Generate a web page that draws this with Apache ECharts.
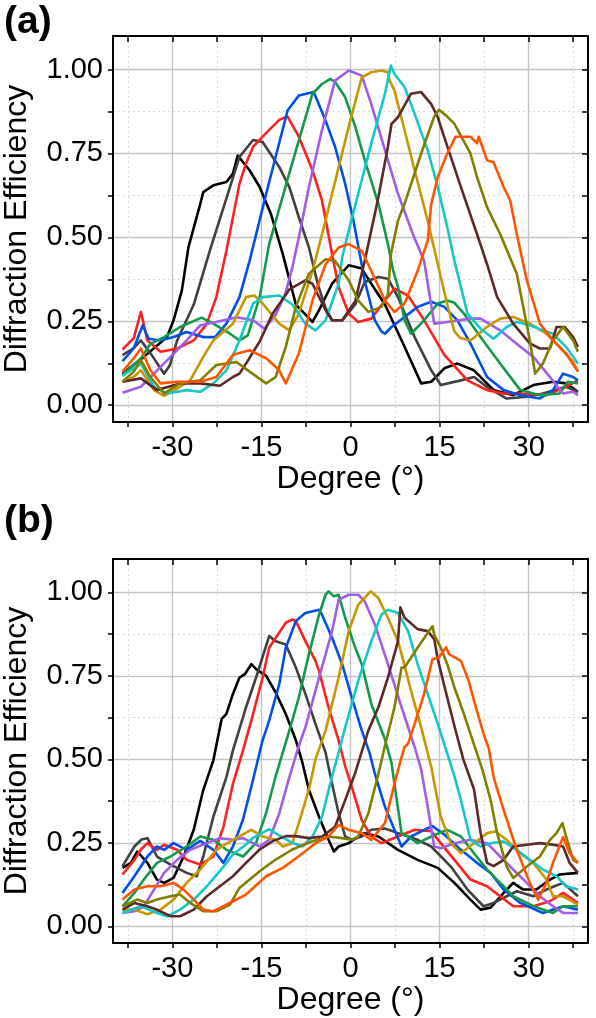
<!DOCTYPE html>
<html><head><meta charset="utf-8">
<script src="https://cdn.jsdelivr.net/npm/echarts@6/dist/echarts.min.js"></script>
<style>html,body{margin:0;padding:0;background:#fff}#c{width:596px;height:1018px}</style>
</head><body><div id="c"></div>
<script>
// ---- axis ticks ----
const xTickLabels = [-30, -15, 0, 15, 30];
const xMinorTicks = [-37.5, -22.5, -7.5, 7.5, 22.5, 37.5];
const yTickLabels = [0, 0.25, 0.5, 0.75, 1.0];
const yMinorTicks = [0.125, 0.375, 0.625, 0.875];
const panelLabels = ['(a)', '(b)'];

// ---- series colours (same order in both panels) ----
const seriesColors = ['#000000', '#404040', '#ff2020', '#0050e6', '#13994a', '#a05ee6',
  '#c89600', '#14c8c8', '#5c2828', '#7f7f00', '#ff5500'];

// ---- panel (a) data: [degree, efficiency] ----
const a_black = [[-38.4,0.094],[-34.8,0.144],[-30.9,0.203],[-29.8,0.253],[-28.4,0.342],[-27.3,0.47],[-25.3,0.6],[-24.8,0.635],[-23.1,0.655],[-20.9,0.665],[-19.8,0.69],[-19.0,0.744],[-17,0.70],[-15.3,0.65],[-13.4,0.57],[-11.4,0.45],[-9.2,0.30],[-6.4,0.248],[-5.3,0.283],[-3.1,0.362],[-0.3,0.417],[1.9,0.407],[3.5,0.362],[5.8,0.30],[9.1,0.174],[11.9,0.065],[13.6,0.07],[15.8,0.11],[18,0.124],[20.8,0.104],[24.1,0.045],[27.4,0.03],[30.8,0.06],[34.1,0.07],[36.3,0.065],[38.3,0.04]];
const a_gray = [[-38.4,0.149],[-36.5,0.17],[-35.3,0.193],[-33.5,0.15],[-31.4,0.094],[-30.4,0.12],[-29.2,0.193],[-26.4,0.30],[-23.7,0.46],[-20.3,0.65],[-18.7,0.74],[-16.4,0.79],[-14.8,0.784],[-12,0.71],[-10.3,0.65],[-8.7,0.56],[-7,0.47],[-5.5,0.36],[-4.2,0.29],[-3.1,0.253],[-1.4,0.253],[0.8,0.30],[2.4,0.367],[4.7,0.382],[6.3,0.377],[8,0.322],[10.8,0.203],[13.6,0.104],[15.2,0.06],[18.6,0.074],[20.8,0.084],[23,0.054],[26.3,0.02],[29.7,0.025],[32.4,0.035],[36.3,0.055],[38.3,0.04]];
const a_red = [[-38.4,0.166],[-36.5,0.2],[-35.3,0.278],[-34.2,0.193],[-32,0.159],[-29.2,0.169],[-26.4,0.193],[-24.2,0.243],[-22.6,0.322],[-20.9,0.46],[-18.7,0.66],[-17.6,0.72],[-16.4,0.77],[-14.8,0.80],[-12,0.85],[-10.6,0.86],[-8.7,0.80],[-6.4,0.70],[-4.8,0.61],[-3.1,0.45],[-2,0.352],[-0.3,0.273],[1.3,0.248],[3.5,0.258],[5.8,0.312],[7.4,0.347],[9.7,0.327],[12.4,0.253],[15.8,0.15],[19.7,0.074],[23,0.045],[25.8,0.035],[28.6,0.035],[33,0.03],[36.3,0.055],[38.3,0.074]];
const a_blue = [[-38.4,0.131],[-36.5,0.17],[-35,0.238],[-34,0.198],[-32,0.193],[-29.8,0.203],[-27.6,0.218],[-24.8,0.203],[-22.8,0.203],[-20.9,0.243],[-18.7,0.322],[-17,0.43],[-14.2,0.63],[-10.6,0.878],[-8.7,0.923],[-6.2,0.933],[-4.2,0.848],[-2.6,0.77],[-0.9,0.66],[0.5,0.55],[2.4,0.37],[4.1,0.253],[5.2,0.22],[5.8,0.213],[6.9,0.233],[9.1,0.263],[11.3,0.293],[13.6,0.308],[15.8,0.293],[18,0.253],[20.2,0.184],[23,0.084],[25.8,0.045],[28.6,0.03],[31.9,0.02],[34.1,0.045],[35.8,0.094],[37.5,0.084],[38.3,0.074]];
const a_green = [[-38.4,0.09],[-35.3,0.139],[-33.7,0.183],[-31.4,0.203],[-28.7,0.233],[-25.1,0.261],[-23.1,0.243],[-20.3,0.213],[-18.7,0.193],[-17.3,0.208],[-15.3,0.322],[-13.7,0.48],[-10,0.71],[-6.4,0.928],[-4.8,0.957],[-3.4,0.972],[-2.6,0.963],[-0.9,0.918],[0.8,0.83],[2.4,0.73],[4.7,0.60],[6.3,0.48],[7.2,0.40],[8,0.352],[9.1,0.253],[10.2,0.213],[12.4,0.253],[14.7,0.303],[16.3,0.312],[17.5,0.305],[19.1,0.273],[21.9,0.203],[25.2,0.124],[28.6,0.045],[31.9,0.03],[35.2,0.035],[36.6,0.07],[38.3,0.065]];
const a_purple = [[-38.4,0.037],[-35.3,0.055],[-33.1,0.094],[-30.3,0.144],[-27.6,0.193],[-25.3,0.238],[-22.6,0.248],[-19.2,0.262],[-16.4,0.253],[-14.5,0.228],[-12.6,0.27],[-11,0.33],[-9.8,0.41],[-8.7,0.50],[-7,0.65],[-4.8,0.82],[-2.6,0.967],[-0.3,0.997],[1.9,0.982],[3.5,0.897],[5.8,0.76],[8,0.63],[10.5,0.51],[12.4,0.43],[13.3,0.33],[14.1,0.243],[16.3,0.248],[20.2,0.258],[21.9,0.258],[25.2,0.223],[28.6,0.174],[30.8,0.144],[33.6,0.084],[35.8,0.035],[37.5,0.04],[38.3,0.03]];
const a_gold = [[-38.4,0.069],[-36.5,0.085],[-35.3,0.104],[-33.1,0.045],[-31.4,0.028],[-28.7,0.055],[-27,0.074],[-24.8,0.144],[-23.1,0.193],[-19.8,0.243],[-17.6,0.322],[-16.2,0.327],[-14.8,0.303],[-12,0.243],[-10.3,0.223],[-8.7,0.273],[-6.4,0.40],[-4.2,0.55],[-3.1,0.63],[-0.3,0.83],[1.9,0.977],[3.5,0.992],[5.2,0.997],[6.3,0.992],[6.6,0.967],[7.4,0.938],[9.1,0.82],[10.8,0.70],[13,0.55],[14.7,0.42],[16.3,0.30],[17.5,0.22],[18.5,0.20],[20.2,0.193],[23,0.233],[25.2,0.258],[27.4,0.263],[30.2,0.243],[33,0.213],[35.2,0.174],[37.5,0.129],[38.3,0.1]];
const a_cyan = [[-38.4,0.087],[-36.5,0.11],[-35.3,0.124],[-33.1,0.055],[-30.9,0.035],[-27.6,0.045],[-25.3,0.04],[-23.1,0.065],[-20.9,0.104],[-18.7,0.193],[-16.4,0.303],[-14.8,0.322],[-12,0.327],[-9.8,0.30],[-7.6,0.243],[-5.9,0.223],[-4.2,0.253],[-2,0.362],[-1.4,0.44],[-0.3,0.52],[1.3,0.63],[3.5,0.78],[5.8,0.928],[6.8,1.012],[7.4,0.987],[9.1,0.948],[10.8,0.868],[13,0.76],[14.7,0.65],[16.3,0.53],[17.5,0.43],[19.7,0.273],[21.9,0.228],[24.1,0.198],[26.3,0.233],[28,0.248],[30.2,0.238],[32.4,0.223],[34.1,0.213],[36.3,0.174],[38.3,0.124]];
const a_brown = [[-38.4,0.07],[-35.3,0.08],[-32.6,0.045],[-28.7,0.065],[-25.3,0.065],[-22,0.058],[-19.8,0.084],[-18.7,0.094],[-17.6,0.124],[-15.3,0.19],[-13.1,0.273],[-10.3,0.345],[-7.6,0.372],[-6.4,0.362],[-4.2,0.283],[-3.1,0.253],[-1.4,0.253],[0.8,0.31],[2.4,0.43],[4.7,0.62],[6.3,0.77],[6.9,0.838],[8,0.858],[10.2,0.928],[11.9,0.933],[13.6,0.897],[14.7,0.858],[15.2,0.83],[16.9,0.74],[18.6,0.65],[21.3,0.51],[23,0.42],[24.7,0.322],[27.4,0.243],[30.2,0.184],[31.9,0.169],[33.6,0.169],[34.7,0.233],[36.1,0.233],[37.5,0.203],[38.3,0.174]];
const a_olive = [[-38.4,0.07],[-36.5,0.1],[-35.3,0.134],[-33.7,0.084],[-31.4,0.035],[-28.7,0.065],[-25.3,0.074],[-22.6,0.12],[-19.2,0.129],[-17,0.1],[-14.2,0.065],[-12.6,0.084],[-10.9,0.174],[-9.2,0.293],[-7,0.392],[-4.2,0.435],[-2.6,0.43],[-0.3,0.372],[1.3,0.312],[3,0.278],[5.2,0.293],[6.3,0.33],[6.8,0.45],[8,0.55],[9.1,0.60],[11.9,0.75],[14.1,0.86],[14.9,0.88],[16.3,0.86],[17.5,0.838],[20.2,0.75],[21.3,0.68],[23,0.59],[25.2,0.51],[28,0.392],[30.2,0.193],[31.1,0.094],[32.4,0.124],[34.1,0.193],[35.8,0.233],[37.5,0.193],[38.3,0.159]];
const a_orange = [[-38.4,0.1],[-36.5,0.14],[-35.3,0.169],[-33.7,0.104],[-32,0.065],[-29.2,0.07],[-25.3,0.07],[-22.6,0.084],[-19.8,0.15],[-17,0.164],[-14.2,0.14],[-12,0.104],[-10.9,0.065],[-8.7,0.154],[-6.4,0.312],[-4.2,0.42],[-2,0.47],[-0.3,0.48],[1.9,0.46],[3.5,0.40],[5.8,0.312],[7.4,0.278],[9.1,0.303],[11.3,0.40],[13,0.49],[13.6,0.6],[14.7,0.68],[16.3,0.75],[17.7,0.80],[19.1,0.80],[20.2,0.80],[21.3,0.78],[21.6,0.80],[23,0.73],[24.1,0.724],[25.8,0.65],[26.9,0.61],[28,0.51],[29.7,0.372],[31.9,0.243],[34.1,0.193],[36.3,0.154],[38.3,0.1]];

// ---- panel (b) data: [degree, efficiency] ----
const b_black = [[-38.4,0.175],[-37,0.19],[-35.9,0.224],[-34.2,0.19],[-32.6,0.14],[-31.4,0.13],[-29.8,0.145],[-28.1,0.209],[-26.4,0.289],[-24.8,0.408],[-23.1,0.497],[-21.7,0.621],[-20.9,0.636],[-19.8,0.696],[-18.7,0.745],[-17.8,0.755],[-16.7,0.785],[-15.9,0.77],[-14.2,0.75],[-12.6,0.70],[-10.9,0.636],[-9.2,0.557],[-8.1,0.49],[-7,0.408],[-5.3,0.328],[-3.7,0.259],[-2.8,0.224],[-2,0.239],[-0.3,0.249],[1.3,0.269],[2.4,0.279],[4.7,0.269],[8,0.229],[11.3,0.199],[14.7,0.175],[17.5,0.13],[20.2,0.08],[21.9,0.05],[23.6,0.056],[25.8,0.1],[27.4,0.13],[29.1,0.11],[31.3,0.11],[33.6,0.14],[35.2,0.155],[38.3,0.16]];
const b_gray = [[-38.4,0.18],[-36.4,0.239],[-35.2,0.26],[-34.2,0.264],[-32.6,0.209],[-30.3,0.185],[-27.6,0.16],[-25.9,0.15],[-24.8,0.209],[-23.1,0.328],[-20.9,0.447],[-19.8,0.527],[-17.6,0.656],[-15.9,0.745],[-13.7,0.869],[-12.6,0.854],[-10.9,0.844],[-9.2,0.775],[-7.6,0.696],[-5.9,0.606],[-4.2,0.52],[-3.1,0.427],[-2,0.338],[-0.9,0.269],[0.2,0.259],[1.9,0.269],[3.5,0.289],[5.8,0.293],[8,0.279],[11.3,0.259],[13.6,0.239],[16.9,0.179],[19.7,0.11],[22.4,0.06],[24.1,0.07],[26.3,0.09],[28,0.105],[30.8,0.09],[33,0.11],[35.8,0.13],[38.3,0.09]];
const b_red = [[-38.4,0.155],[-36.4,0.199],[-35.3,0.23],[-34.2,0.249],[-32.6,0.229],[-31.4,0.244],[-29.2,0.229],[-27.6,0.199],[-25.3,0.185],[-23.1,0.209],[-21.4,0.298],[-19.8,0.427],[-18.1,0.527],[-16.4,0.636],[-14.8,0.745],[-13.7,0.834],[-12,0.88],[-10.9,0.909],[-9.8,0.919],[-9.2,0.914],[-7.6,0.854],[-5.9,0.795],[-5.3,0.765],[-3.7,0.656],[-2,0.557],[-0.9,0.48],[0.2,0.418],[1.9,0.318],[3.5,0.269],[5.2,0.249],[8,0.269],[10.8,0.289],[13.6,0.285],[15.2,0.249],[17.5,0.199],[20.2,0.14],[23,0.12],[25.2,0.09],[27.4,0.06],[30.8,0.06],[33.6,0.075],[35.8,0.1],[38.3,0.07]];
const b_blue = [[-38.4,0.1],[-36.4,0.15],[-34.2,0.209],[-32.6,0.239],[-31.4,0.229],[-29.8,0.249],[-27.6,0.229],[-25.3,0.256],[-23.1,0.229],[-21.4,0.19],[-19.8,0.239],[-18.1,0.32],[-16.4,0.44],[-14.8,0.557],[-13.7,0.616],[-12,0.725],[-10.9,0.834],[-9.2,0.914],[-7.6,0.938],[-5.3,0.948],[-4.8,0.933],[-3.1,0.864],[-1.4,0.785],[0.2,0.686],[1.9,0.586],[3.2,0.52],[4.1,0.457],[5.8,0.358],[7.4,0.289],[8.6,0.239],[10.2,0.269],[12.4,0.289],[13.8,0.3],[15.8,0.275],[18.6,0.229],[21.3,0.19],[23.6,0.16],[25.8,0.11],[28.6,0.07],[32.4,0.04],[35.8,0.06],[38.3,0.05]];
const b_green = [[-38.4,0.06],[-36.4,0.1],[-34.8,0.14],[-32.6,0.19],[-30.3,0.209],[-27.6,0.239],[-25.3,0.269],[-23.1,0.259],[-20.9,0.229],[-18.1,0.209],[-15.9,0.25],[-14.2,0.34],[-12.6,0.45],[-10.3,0.586],[-8.7,0.686],[-7,0.815],[-5.3,0.933],[-4.2,0.993],[-3.7,1.003],[-2.8,0.988],[-2,0.993],[-0.9,0.924],[0.8,0.834],[1.9,0.785],[3.5,0.666],[5.8,0.56],[6.9,0.49],[7.4,0.427],[8.6,0.279],[9.7,0.269],[11.3,0.249],[13.6,0.269],[16.3,0.289],[18.6,0.269],[20.8,0.219],[23,0.17],[25.2,0.13],[27.4,0.09],[30.8,0.06],[34.1,0.04],[35.8,0.06],[38.3,0.06]];
const b_purple = [[-38.4,0.04],[-36.4,0.045],[-34.8,0.06],[-33.1,0.11],[-31.4,0.16],[-29.2,0.199],[-27,0.229],[-24.2,0.249],[-22,0.264],[-19.8,0.259],[-18.1,0.264],[-16.4,0.249],[-15.3,0.239],[-13.7,0.259],[-12,0.338],[-10.3,0.447],[-8.7,0.54],[-7.6,0.596],[-5.3,0.745],[-3.1,0.884],[-2,0.978],[-0.3,0.993],[1.3,0.993],[2.4,0.973],[4.1,0.904],[6.3,0.785],[8.6,0.656],[10.8,0.537],[11.9,0.47],[13,0.358],[14.1,0.239],[15.2,0.234],[17.5,0.249],[20.2,0.259],[23,0.249],[25.2,0.209],[27.4,0.17],[29.7,0.13],[31.9,0.09],[34.1,0.06],[35.8,0.04],[38.3,0.04]];
const b_gold = [[-38.4,0.05],[-36.4,0.05],[-34.2,0.036],[-32,0.05],[-29.8,0.08],[-27.6,0.13],[-25.3,0.17],[-22.6,0.229],[-19.8,0.259],[-16.7,0.289],[-14.8,0.269],[-12.6,0.259],[-11.4,0.239],[-9.8,0.249],[-8.7,0.309],[-7,0.41],[-5.9,0.5],[-4.2,0.586],[-2,0.745],[-0.3,0.884],[1.3,0.963],[3.4,1.003],[4.7,0.983],[6.3,0.924],[8,0.854],[8.6,0.815],[10.2,0.705],[11.9,0.596],[13.6,0.477],[15.2,0.328],[16.9,0.249],[18.6,0.219],[20.8,0.249],[23,0.279],[24.4,0.284],[26.3,0.259],[28.6,0.219],[30.8,0.19],[33,0.14],[34.1,0.09],[35.8,0.09],[38.3,0.065]];
const b_cyan = [[-38.4,0.04],[-35.3,0.06],[-32.6,0.04],[-30.9,0.03],[-28.7,0.05],[-26.4,0.08],[-24.2,0.12],[-22,0.165],[-19.8,0.215],[-17.6,0.245],[-16.4,0.265],[-13.7,0.291],[-12,0.272],[-9.8,0.25],[-8.1,0.239],[-6.4,0.269],[-4.8,0.328],[-3.1,0.45],[-2,0.52],[-0.9,0.596],[1.3,0.735],[3.5,0.854],[5.2,0.933],[6.3,0.948],[8,0.938],[9.7,0.884],[11.3,0.785],[13,0.696],[14.7,0.606],[16.3,0.517],[17.5,0.45],[18.6,0.378],[20.2,0.259],[21.9,0.239],[23.6,0.249],[25.8,0.254],[28,0.229],[30.2,0.199],[32.4,0.17],[34.7,0.15],[36.3,0.12],[38.3,0.11]];
const b_brown = [[-38.4,0.05],[-36.4,0.07],[-34.2,0.06],[-32.6,0.05],[-30.3,0.03],[-28.7,0.03],[-26.4,0.05],[-24.2,0.09],[-22,0.12],[-19.8,0.15],[-17.6,0.19],[-15.3,0.23],[-13.1,0.255],[-10.9,0.27],[-9.2,0.27],[-7,0.264],[-4.8,0.269],[-2.6,0.298],[-0.9,0.378],[0.8,0.46],[3,0.586],[4.7,0.656],[6.3,0.745],[8,0.854],[8.4,0.955],[9.1,0.924],[11.3,0.89],[13,0.884],[14.1,0.86],[14.7,0.80],[15.8,0.72],[17.5,0.6],[19,0.5],[20.8,0.41],[21.9,0.28],[23,0.19],[24.1,0.18],[25.8,0.199],[27.4,0.239],[29.7,0.244],[31.9,0.249],[34.1,0.244],[35.8,0.239],[36.9,0.19],[38.3,0.16]];
const b_olive = [[-38.4,0.06],[-35.9,0.08],[-34.2,0.07],[-32.6,0.08],[-30.3,0.09],[-28.7,0.095],[-27,0.07],[-24.8,0.045],[-22.6,0.045],[-20.3,0.065],[-18.7,0.115],[-15.3,0.165],[-12.6,0.2],[-9.8,0.23],[-6.4,0.255],[-3.7,0.269],[-1.4,0.264],[0.2,0.259],[1.3,0.269],[3,0.338],[4.7,0.457],[5.8,0.54],[7.4,0.656],[8.6,0.775],[9.1,0.775],[11.3,0.834],[13.8,0.899],[14.1,0.874],[15.2,0.834],[16.3,0.785],[17.5,0.715],[19.1,0.636],[20.2,0.576],[22.2,0.47],[23.6,0.378],[24.7,0.279],[26.3,0.179],[27.4,0.145],[29.7,0.179],[31.9,0.209],[33.6,0.259],[34.7,0.279],[35.7,0.309],[36.3,0.269],[37.5,0.199],[38.3,0.19]];
const b_orange = [[-38.4,0.08],[-36.4,0.11],[-34.2,0.12],[-32,0.12],[-29.8,0.13],[-28.1,0.11],[-26.4,0.08],[-24.8,0.05],[-23.1,0.045],[-21.4,0.06],[-19.8,0.075],[-17.6,0.095],[-14.2,0.15],[-11.4,0.175],[-8.7,0.21],[-5.9,0.249],[-3.7,0.269],[-2,0.304],[-0.3,0.289],[1.9,0.279],[3.5,0.259],[5.8,0.309],[7.4,0.427],[8.6,0.507],[9.1,0.537],[9.7,0.547],[10.8,0.606],[12.4,0.696],[13.8,0.8],[14.9,0.805],[16.1,0.836],[16.6,0.815],[18.6,0.795],[19.9,0.735],[20.8,0.676],[22.4,0.577],[23.3,0.532],[24.1,0.447],[25.8,0.348],[28,0.229],[30.2,0.13],[31.6,0.08],[33,0.13],[34.1,0.19],[35.8,0.267],[36.9,0.219],[38.3,0.19]];

const panelA = [a_black, a_gray, a_red, a_blue, a_green, a_purple, a_gold, a_cyan, a_brown, a_olive, a_orange];
const panelB = [b_black, b_gray, b_red, b_blue, b_green, b_purple, b_gold, b_cyan, b_brown, b_olive, b_orange];
const panels = [panelA, panelB];

// ---- layout / style ----
const FONT = '"Liberation Sans", Arial, Helvetica, sans-serif';
const gridBoxes = [
  {left: 113, top: 36, width: 475, height: 386},
  {left: 113, top: 559, width: 475, height: 384}
];
const labelTops = [3, 502];
const X_MIN = -40, X_MAX = 40, Y_MIN = -0.05, Y_MAX = 1.1;
const xAllTicks = xTickLabels.concat(xMinorTicks).sort((p, q) => p - q);
const yAllTicks = yTickLabels.concat(yMinorTicks).sort((p, q) => p - q);
const majorGridStyle = {color: '#c4c4c4', width: 1.4, type: 'solid'};
const minorGridStyle = {color: '#dadada', width: 1, type: [2, 3]};
const frame = {show: true, onZero: false, lineStyle: {color: '#000', width: 2}};

const xAxes = [], yAxes = [], series = [], titles = [];
gridBoxes.forEach((g, gi) => {
  const base = {gridIndex: gi, type: 'value', min: X_MIN, max: X_MAX};
  xAxes.push(Object.assign({}, base, {
    position: 'bottom', axisLine: frame,
    axisTick: {show: true, inside: false, length: 5, customValues: xAllTicks, lineStyle: {color: '#000', width: 1.5}},
    axisLabel: {show: true, customValues: xTickLabels, formatter: v => String(v), fontSize: 29, color: '#000', fontFamily: FONT, margin: 11},
    splitLine: {show: false},
    name: 'Degree (°)', nameLocation: 'middle', nameGap: 34,
    nameTextStyle: {fontSize: 32, color: '#000', fontFamily: FONT}
  }));
  xAxes.push(Object.assign({}, base, {
    position: 'top', axisLine: frame,
    axisTick: {show: true, inside: true, length: 6, customValues: xAllTicks, lineStyle: {color: '#000', width: 1.5}},
    axisLabel: {show: false}, splitLine: {show: false}
  }));
  xAxes.push(Object.assign({}, base, {
    position: 'bottom', axisLine: {show: false, onZero: false},
    axisTick: {show: false, customValues: xTickLabels}, axisLabel: {show: false},
    splitLine: {show: true, lineStyle: majorGridStyle}
  }));
  xAxes.push(Object.assign({}, base, {
    position: 'bottom', axisLine: {show: false, onZero: false},
    axisTick: {show: false, customValues: xMinorTicks}, axisLabel: {show: false},
    splitLine: {show: true, lineStyle: minorGridStyle}
  }));

  const ybase = {gridIndex: gi, type: 'value', min: Y_MIN, max: Y_MAX};
  yAxes.push(Object.assign({}, ybase, {
    position: 'left', axisLine: frame,
    axisTick: {show: true, inside: false, length: 5, customValues: yAllTicks, lineStyle: {color: '#000', width: 1.5}},
    axisLabel: {show: true, customValues: yTickLabels, formatter: v => v.toFixed(2), fontSize: 29, color: '#000', fontFamily: FONT, margin: 10},
    splitLine: {show: false},
    name: 'Diffraction Efficiency', nameLocation: 'middle', nameGap: 80,
    nameTextStyle: {fontSize: 32, color: '#000', fontFamily: FONT}
  }));
  yAxes.push(Object.assign({}, ybase, {
    position: 'right', axisLine: frame,
    axisTick: {show: true, inside: true, length: 6, customValues: yAllTicks, lineStyle: {color: '#000', width: 1.5}},
    axisLabel: {show: false}, splitLine: {show: false}
  }));
  yAxes.push(Object.assign({}, ybase, {
    position: 'left', axisLine: {show: false, onZero: false},
    axisTick: {show: false, customValues: yTickLabels}, axisLabel: {show: false},
    splitLine: {show: true, lineStyle: majorGridStyle}
  }));
  yAxes.push(Object.assign({}, ybase, {
    position: 'left', axisLine: {show: false, onZero: false},
    axisTick: {show: false, customValues: yMinorTicks}, axisLabel: {show: false},
    splitLine: {show: true, lineStyle: minorGridStyle}
  }));

  panels[gi].forEach((data, si) => {
    series.push({
      type: 'line', xAxisIndex: gi * 4, yAxisIndex: gi * 4, data: data,
      showSymbol: false, symbol: 'none', smooth: false, clip: true,
      lineStyle: {color: seriesColors[si], width: 2.6, join: 'round'},
      itemStyle: {color: seriesColors[si]}, z: 3 + si
    });
  });

  titles.push({text: panelLabels[gi], left: 4, top: labelTops[gi], padding: 0,
    textStyle: {fontSize: 39, fontWeight: 'bold', color: '#000', fontFamily: FONT}});
});

const chart = echarts.init(document.getElementById('c'), null, {renderer: 'canvas'});
chart.setOption({
  backgroundColor: '#fff',
  animation: false,
  title: titles,
  grid: gridBoxes.map(g => Object.assign({containLabel: false, outerBoundsMode: 'none'}, g)),
  xAxis: xAxes,
  yAxis: yAxes,
  series: series
});
</script></body></html>
